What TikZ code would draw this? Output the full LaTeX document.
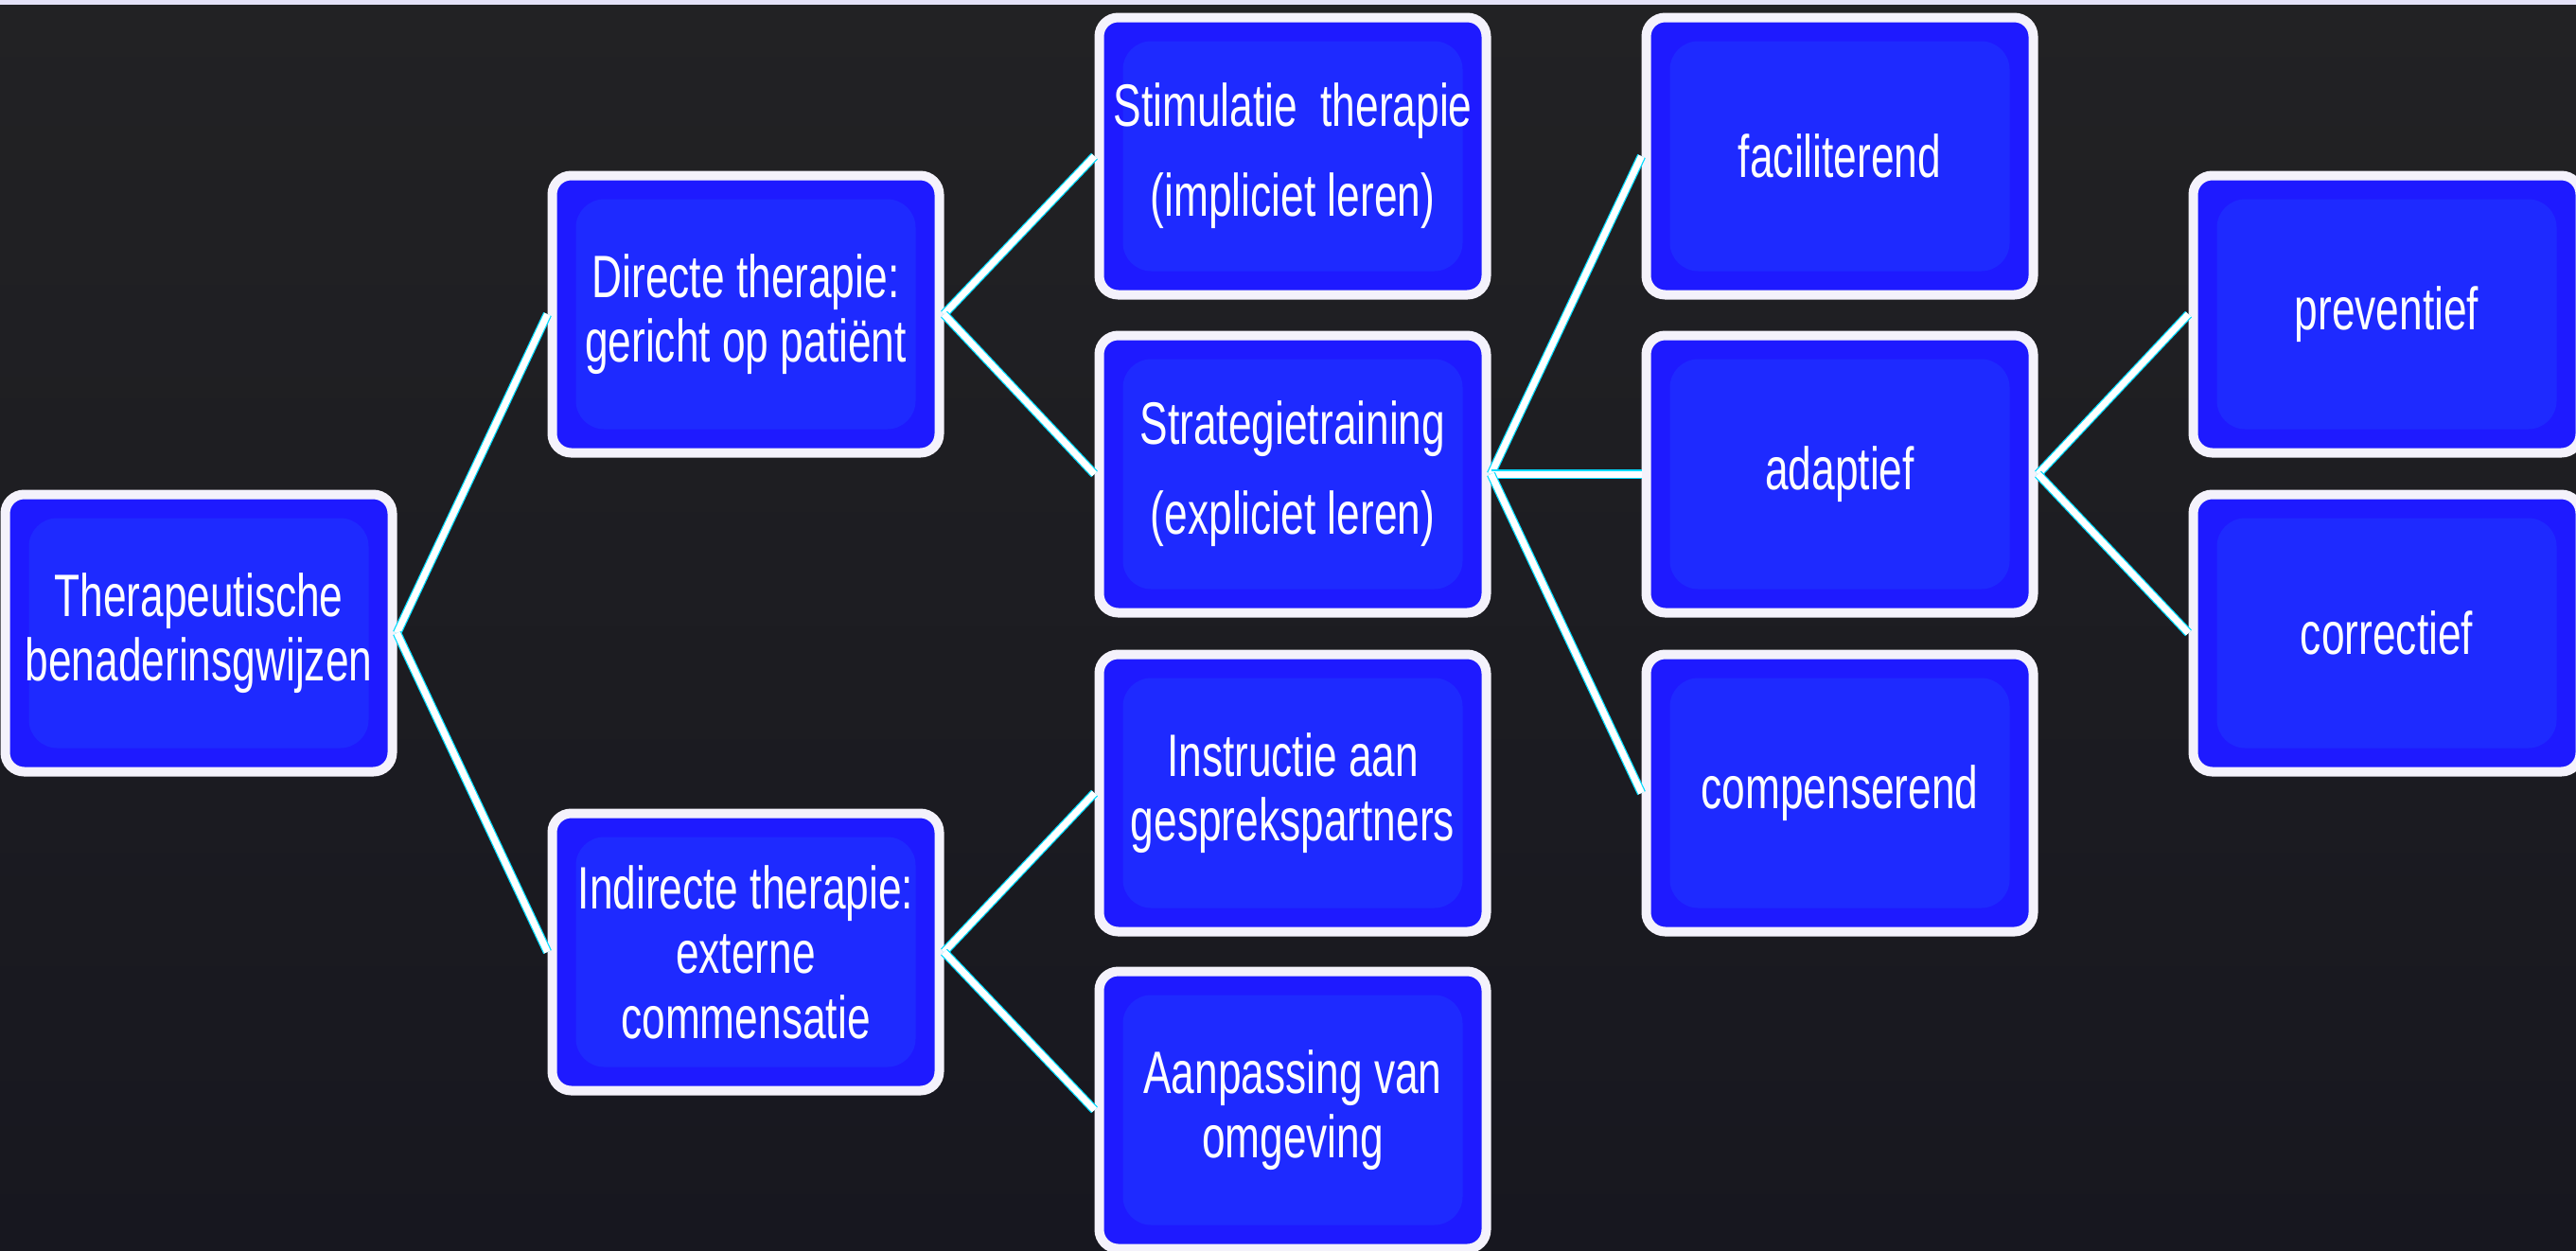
\documentclass[tikz,border=0pt]{standalone}
\usepackage{fontspec}
\setmainfont{Liberation Sans}[FakeStretch=0.70]
\usetikzlibrary{positioning}

\definecolor{bgtop}{RGB}{34,34,36}
\definecolor{bgbot}{RGB}{23,23,31}
\definecolor{topstrip}{RGB}{228,226,248}
\definecolor{boxblue}{RGB}{30,26,255}
\definecolor{boxglow}{RGB}{30,42,255}
\definecolor{boxrim}{RGB}{244,242,251}
\definecolor{linkcyan}{RGB}{0,220,255}

\begin{document}
\begin{tikzpicture}[
  box/.style={rectangle, draw=boxrim, fill=boxblue, line width=1mm, rounded corners=2mm, minimum width=4.09cm, minimum height=2.93cm, align=center, text=white, font=\fontsize{18}{19.5}\selectfont, inner sep=2pt,
    path picture={\fill[boxglow, rounded corners=3mm] ([shift={(2.5mm,-2.5mm)}]path picture bounding box.north west) rectangle ([shift={(-2.5mm,2.5mm)}]path picture bounding box.south east);}},
  link/.style={draw=linkcyan, line width=0.35pt, double=white, double distance=2pt}
]

\useasboundingbox (0,0) rectangle (27.22,-13.21);
\clip (0,0) rectangle (27.22,-13.21);
\shade[top color=bgtop, bottom color=bgbot] (0,0) rectangle (27.22,-13.21);
\fill[topstrip] (0,0) rectangle (27.22,-0.05);

\node[box] (root) at (2.10,-6.69) {Therapeutische\\benaderinsgwijzen};

\node[box] (direct) at (7.88,-3.32) {Directe therapie:\\gericht op patiënt};
\node[box] (indirect) at (7.88,-10.06) {Indirecte therapie:\\externe\\commensatie};

\node[box] (stim) at (13.66,-1.65) {Stimulatie\ \ therapie\\[7.5pt](impliciet leren)};
\node[box] (strat) at (13.66,-5.01) {Strategietraining\\[7.5pt](expliciet leren)};
\node[box] (instr) at (13.66,-8.38) {Instructie aan\\gesprekspartners};
\node[box] (aanp) at (13.66,-11.73) {Aanpassing van\\omgeving};

\node[box] (facil) at (19.44,-1.65) {faciliterend};
\node[box] (adapt) at (19.44,-5.01) {adaptief};
\node[box] (comp) at (19.44,-8.38) {compenserend};

\node[box] (prev) at (25.22,-3.32) {preventief};
\node[box] (corr) at (25.22,-6.69) {correctief};

\draw[link] (root.east) -- (direct.west);
\draw[link] (root.east) -- (indirect.west);
\draw[link] (direct.east) -- (stim.west);
\draw[link] (direct.east) -- (strat.west);
\draw[link] (indirect.east) -- (instr.west);
\draw[link] (indirect.east) -- (aanp.west);
\draw[link] (strat.east) -- (facil.west);
\draw[link] (strat.east) -- (adapt.west);
\draw[link] (strat.east) -- (comp.west);
\draw[link] (adapt.east) -- (prev.west);
\draw[link] (adapt.east) -- (corr.west);

\end{tikzpicture}
\end{document}
